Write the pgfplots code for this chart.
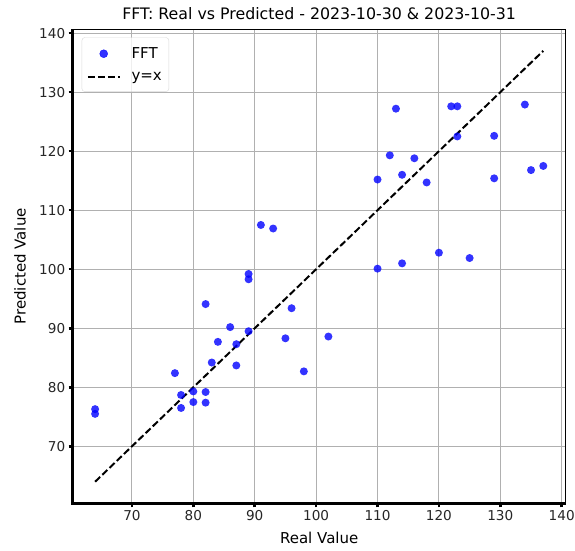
\documentclass[border=0pt]{standalone}
\usepackage{fontspec}
\setmainfont{DejaVu Sans}
\usepackage{pgfplots}
\pgfplotsset{compat=1.18}
\definecolor{gridgray}{HTML}{B0B0B0}
\definecolor{ptblue}{RGB}{0,0,255}

\begin{document}
\begin{tikzpicture}
\begin{axis}[
  scale only axis,
  width=493pt, height=474pt,
  xmin=60.35, xmax=140.65,
  ymin=60.35, ymax=140.65,
  xtick={70,80,...,140}, ytick={70,80,...,140},
  tick pos=left, tick align=outside,
  major tick length=4pt,
  every tick/.style={black, line width=2.5pt},
  /pgf/number format/assume math mode=true,
  ticklabel style={font=\fontsize{13.6}{16}\selectfont, color=black!85},
  grid=major,
  major grid style={gridgray, line width=1pt},
  axis line style={black, line width=0.8pt},
  clip=false,
  title={FFT: Real vs Predicted - 2023-10-30 \& 2023-10-31},
  title style={font=\fontsize{15.8}{18}\selectfont, at={(axis description cs:0.5,1.007)}, anchor=base},
  xlabel={Real Value},
  xlabel style={font=\fontsize{15}{18}\selectfont, at={(axis description cs:0.5,-0.0732)}, anchor=center},
  ylabel={Predicted Value},
  ylabel style={font=\fontsize{15}{18}\selectfont, at={(axis description cs:-0.1069,0.5)}, anchor=center},
  legend style={at={(axis description cs:0.0183,0.9831)}, anchor=north west,
    draw=black!15, rounded corners=3pt, fill=white, fill opacity=0.8, text opacity=1,
    font=\fontsize{15}{18}\selectfont, row sep=8pt, column sep=9pt,
    inner xsep=5pt, inner ysep=8pt},
  legend cell align=left,
]
\addplot[only marks, mark=*, mark size=4pt,
  mark options={fill=ptblue, draw opacity=0, fill opacity=0.8},
  legend image code/.code={\fill[ptblue, opacity=0.8] (15.8pt,0pt) circle (4pt); \path[draw=none] (0pt,0pt) -- (31.6pt,0pt);}]
  coordinates {
(64,76.3)(64,75.5)(77,82.4)(78,78.7)(78,76.5)(80,79.3)(80,77.5)(82,79.2)(82,77.4)(82,94.1)
(83,84.2)(84,87.7)(86,90.2)(87,87.3)(87,83.7)(89,89.5)(89,99.2)(89,98.3)(91,107.5)(93,106.9)
(95,88.3)(96,93.4)(98,82.7)(102,88.6)(110,100.1)(110,115.2)(112,119.3)(113,127.2)(114,101.0)(114,116.0)
(116,118.8)(118,114.7)(120,102.8)(122,127.6)(123,127.6)(123,122.5)(125,101.9)(129,122.6)(129,115.4)(134,127.9)
(135,116.8)(137,117.5)};
\addlegendentry{FFT}
\addplot[black, line width=2pt, dash pattern=on 7pt off 3pt,
  legend image code/.code={\draw[black, line width=2pt, dash pattern=on 7pt off 3pt] (0pt,0pt) -- (31.6pt,0pt);}]
  coordinates {(64,64)(137,137)};
\addlegendentry{y=x}
\draw[black, line width=2.5pt] (rel axis cs:0,1) -- (rel axis cs:0,0) -- (rel axis cs:1,0);
\end{axis}
\pgfresetboundingbox
\path[use as bounding box] ([shift={(-72.7pt,-47.7pt)}]current axis.south west) rectangle ([shift={(9.3pt,29.3pt)}]current axis.north east);
\end{tikzpicture}
\end{document}
